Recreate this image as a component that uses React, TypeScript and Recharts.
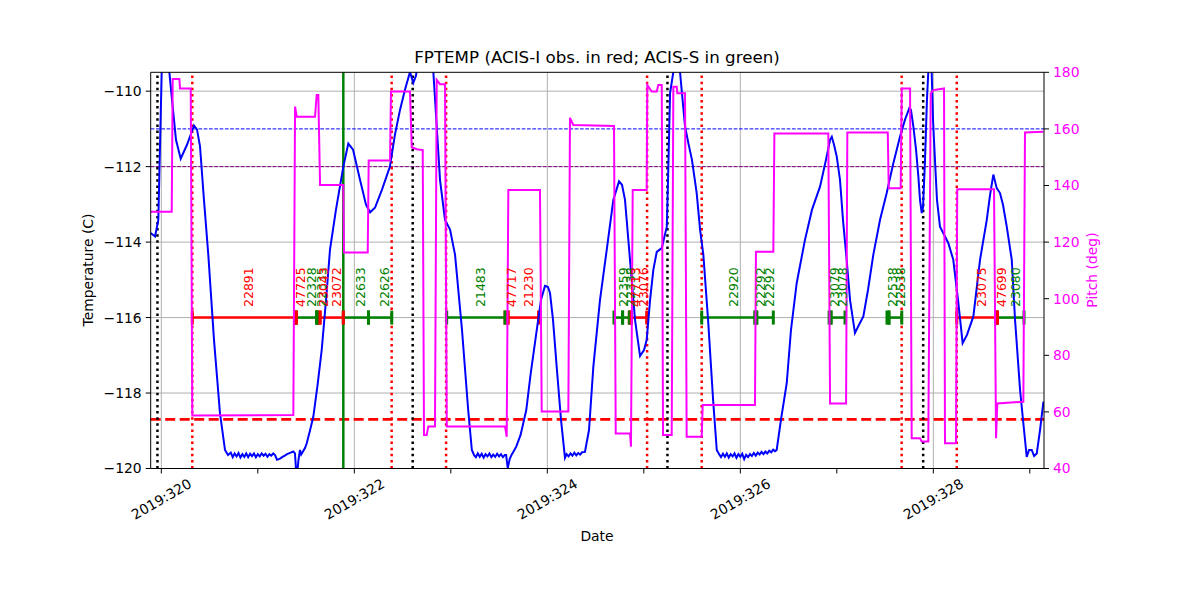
import React from 'react';
import { ComposedChart, Line, XAxis, YAxis, CartesianGrid, ReferenceLine, Scatter } from 'recharts';

// ---------- data ----------
const TEMP_DAY = [
  319.890, 319.935, 319.969, 320.004, 320.023, 320.045, 320.083, 320.111, 320.152, 320.201,
  320.266, 320.339, 320.370, 320.401, 320.442, 320.487, 320.546, 320.608, 320.660, 320.691,
  320.72, 320.74, 320.76, 320.78, 320.80, 320.82, 320.84, 320.86, 320.88, 320.90,
  320.92, 320.94, 320.96, 320.98, 321.00, 321.02, 321.04, 321.06, 321.08, 321.10,
  321.12, 321.14, 321.16, 321.18, 321.199, 321.230, 321.251, 321.280, 321.303, 321.340,
  321.368, 321.385, 321.403, 321.420, 321.437, 321.450, 321.468, 321.490, 321.507, 321.540,
  321.575, 321.619, 321.662, 321.707, 321.748, 321.810, 321.886, 321.938, 321.987, 322.059,
  322.121, 322.163, 322.214, 322.287, 322.369, 322.421, 322.474, 322.525, 322.577, 322.611,
  322.639, 322.680, 322.742, 322.795, 322.819, 322.854, 322.888, 322.940, 322.992, 323.044,
  323.116, 323.180, 323.218,
  323.24, 323.26, 323.28, 323.30, 323.32, 323.34, 323.36, 323.38, 323.40, 323.42,
  323.44, 323.46, 323.48, 323.50, 323.52, 323.54, 323.56,
  323.573, 323.590, 323.610, 323.629, 323.650, 323.678, 323.723, 323.782, 323.826, 323.886,
  323.935, 323.976, 324.007, 324.028, 324.059, 324.097, 324.142, 324.183,
  324.20, 324.22, 324.24, 324.26, 324.28, 324.30, 324.32, 324.34, 324.36,
  324.390, 324.432, 324.477, 324.546, 324.616, 324.684, 324.743, 324.774, 324.805, 324.857,
  324.909, 324.961, 325.002, 325.030, 325.065, 325.099, 325.134, 325.186, 325.238, 325.251,
  325.272, 325.306, 325.334, 325.375, 325.427, 325.461, 325.499, 325.548, 325.583, 325.617,
  325.666, 325.718, 325.756,
  325.78, 325.80, 325.82, 325.84, 325.86, 325.88, 325.90, 325.92, 325.94, 325.96,
  325.98, 326.00, 326.02, 326.04, 326.06, 326.08, 326.10, 326.12, 326.14, 326.16,
  326.18, 326.20, 326.22, 326.24, 326.26, 326.28, 326.30, 326.32, 326.34, 326.36,
  326.377, 326.421, 326.481, 326.525, 326.584, 326.670, 326.743, 326.826, 326.888, 326.930,
  326.948, 326.971, 326.999, 327.033, 327.064, 327.102, 327.137, 327.188, 327.230, 327.275,
  327.323, 327.378, 327.448, 327.517, 327.582, 327.655, 327.706, 327.751, 327.768, 327.793,
  327.821, 327.845, 327.862, 327.880, 327.893, 327.914, 327.934, 327.948, 327.966, 327.983,
  327.997, 328.017, 328.038, 328.069, 328.121, 328.156, 328.207, 328.256, 328.304, 328.349,
  328.415, 328.484, 328.554, 328.588, 328.622, 328.657, 328.691, 328.722, 328.761, 328.813,
  328.847, 328.899, 328.940, 328.968, 328.992, 329.020, 329.044, 329.072, 329.106, 329.141,
];
const TEMP_C = [
  -113.76, -113.85, -113.41, -109.49, -108.60, -108.40, -109.49, -110.23, -111.29, -111.79,
  -111.42, -110.91, -111.02, -111.46, -112.88, -114.34, -116.59, -118.54, -119.51, -119.64,
  -119.58, -119.70, -119.60, -119.68, -119.59, -119.71, -119.62, -119.69, -119.60, -119.70,
  -119.61, -119.67, -119.60, -119.70, -119.62, -119.68, -119.60, -119.66, -119.61, -119.69,
  -119.62, -119.66, -119.60, -119.65, -119.77, -119.74, -119.70, -119.66, -119.62, -119.58,
  -119.55, -119.60, -120.30, -119.80, -119.51, -119.63, -119.55, -119.45, -119.33, -119.00,
  -118.63, -117.79, -116.86, -115.53, -114.20, -113.14, -112.00, -111.39, -111.55, -112.35,
  -113.01, -113.21, -113.09, -112.61, -112.00, -111.15, -110.49, -109.96, -109.49, -109.78,
  -109.59, -108.90, -108.10, -108.90, -109.49, -110.93, -112.35, -113.41, -113.67, -114.34,
  -116.33, -118.45, -119.51,
  -119.64, -119.70, -119.60, -119.69, -119.61, -119.71, -119.62, -119.68, -119.60, -119.70,
  -119.63, -119.69, -119.61, -119.68, -119.62, -119.70, -119.64,
  -119.64, -119.99, -119.75, -119.64, -119.55, -119.42, -119.11, -118.45, -117.52, -116.41,
  -115.53, -115.16, -115.19, -115.35, -116.06, -117.30, -118.71, -119.72,
  -119.62, -119.68, -119.60, -119.66, -119.58, -119.65, -119.59, -119.63, -119.57,
  -119.56, -118.98, -117.30, -115.53, -114.20, -112.88, -112.39, -112.48, -112.88, -114.47,
  -116.06, -117.02, -116.86, -116.59, -115.53, -114.73, -114.26, -114.16, -113.59, -112.35,
  -110.05, -109.49, -108.63, -109.49, -110.93, -111.37, -111.82, -112.70, -113.67, -114.34,
  -116.06, -118.18, -119.51,
  -119.62, -119.70, -119.61, -119.69, -119.60, -119.71, -119.62, -119.68, -119.60, -119.72,
  -119.62, -119.69, -119.61, -119.75, -119.64, -119.70, -119.62, -119.67, -119.59, -119.66,
  -119.58, -119.63, -119.56, -119.62, -119.55, -119.60, -119.53, -119.57, -119.50, -119.54,
  -119.51, -118.71, -117.74, -116.33, -115.09, -113.94, -113.14, -112.53, -111.82, -111.29,
  -111.21, -111.42, -111.73, -112.35, -113.41, -114.47, -115.53, -116.41, -116.19, -115.97,
  -115.27, -114.34, -113.41, -112.70, -111.95, -111.20, -110.76, -110.45, -110.49, -110.93,
  -111.55, -112.26, -112.88, -113.23, -113.09, -111.82, -110.23, -109.49, -108.63, -109.49,
  -110.76, -111.82, -112.88, -113.59, -113.85, -114.03, -114.47, -115.53, -116.68, -116.46,
  -115.97, -114.47, -113.41, -112.75, -112.21, -112.57, -112.70, -113.01, -113.59, -114.47,
  -116.06, -117.92, -118.98, -119.69, -119.51, -119.51, -119.67, -119.60, -118.98, -118.23,
];

const PITCH_DAY = [
  319.890, 320.108, 320.118, 320.187, 320.194, 320.305, 320.321, 321.368, 321.386, 321.403,
  321.593, 321.610, 321.627, 321.645, 321.886, 321.893, 322.139, 322.149, 322.370, 322.380,
  322.577, 322.595, 322.647, 322.709, 322.722, 322.750, 322.767, 322.836, 322.854, 322.888,
  322.940, 322.958, 323.562, 323.579, 323.596, 323.924, 323.942, 324.218, 324.235, 324.269,
  324.691, 324.709, 324.857, 324.867, 324.885, 325.030, 325.036, 325.082, 325.134, 325.150,
  325.186, 325.199, 325.289, 325.306, 325.341, 325.347, 325.427, 325.444, 325.600, 325.610,
  326.152, 326.162, 326.342, 326.353, 326.912, 326.930, 327.096, 327.109, 327.528, 327.538,
  327.662, 327.673, 327.759, 327.776, 327.862, 327.880, 327.948, 327.973, 328.000, 328.111,
  328.121, 328.235, 328.248, 328.629, 328.650, 328.663, 328.933, 328.950, 329.140,
];
const PITCH_DEG = [
  130.7, 130.7, 177.6, 177.6, 174.3, 174.3, 58.7, 58.9, 167.9, 164.3,
  164.3, 172.0, 172.0, 140.2, 140.2, 116.3, 116.3, 148.8, 148.8, 173.2,
  173.2, 153.5, 152.8, 152.5, 51.8, 51.8, 54.8, 54.8, 177.3, 175.8,
  175.8, 54.8, 54.8, 51.2, 138.4, 138.4, 60.1, 60.1, 163.9, 161.4,
  161.0, 52.4, 52.4, 47.7, 138.4, 138.4, 175.5, 173.2, 173.2, 175.5,
  175.5, 51.8, 51.8, 174.9, 174.9, 172.6, 172.6, 51.2, 51.2, 62.4,
  62.4, 116.6, 116.6, 158.4, 158.4, 63.0, 63.0, 158.7, 158.7, 139.0,
  139.0, 174.3, 174.3, 50.7, 50.7, 49.5, 49.5, 172.6, 173.7, 174.3,
  48.9, 48.9, 138.7, 138.7, 50.7, 63.0, 63.6, 158.7, 159.0,
];

const OBS_START = [
  320.321, 321.385, 321.400, 321.608, 321.618, 321.645, 321.886, 322.147, 322.957, 323.562,
  323.593, 324.691, 324.780, 324.850, 324.870, 325.600, 326.152, 326.170, 326.920, 326.940,
  327.520, 327.540, 328.243, 328.650, 328.665,
];
const OBS_STOP = [
  321.385, 321.400, 321.608, 321.618, 321.645, 321.886, 322.147, 322.388, 323.562, 323.593,
  323.909, 324.780, 324.850, 324.870, 325.030, 326.152, 326.170, 326.342, 326.940, 327.085,
  327.540, 327.673, 328.650, 328.665, 328.940,
];
const OBS_ID = [
  '22891', '47725', '22328', '22335', '23043', '23072', '22633', '22626', '21483', '47717',
  '21230', '22359', '22338', '47713', '23076', '22920', '22292', '22292', '23079', '23078',
  '22538', '22538', '23075', '47699', '23080',
];
const OBS_INSTR = [
  'I', 'I', 'S', 'S', 'I', 'I', 'S', 'S', 'S', 'I',
  'I', 'S', 'S', 'I', 'I', 'S', 'S', 'S', 'S', 'S',
  'S', 'S', 'I', 'I', 'S',
];

const RADZONE_BOUNDS = [320.321, 322.387, 322.951, 325.034, 325.600, 327.672, 328.243];
const PERIGEE_DAYS = [319.960, 322.605, 325.245, 327.895];
const NOW_DAY = 321.886;
const LIMIT_BLUE = -111;
const LIMIT_PURPLE = -112;
const LIMIT_RED = -118.7;
const OBS_LEVEL = -116;
const LABEL_LEVEL = -115.72;
const CAP_HALF = 0.186;

const X_TICKS = [320, 321, 322, 323, 324, 325, 326, 327, 328, 329];
const X_GRID = [320, 322, 324, 326, 328];
const Y_LEFT_TICKS = [-120, -118, -116, -114, -112, -110];
const Y_RIGHT_TICKS = [40, 60, 80, 100, 120, 140, 160, 180];
const X_DOMAIN = [319.89, 329.147];
const Y_LEFT_DOMAIN = [-120, -109.5];
const Y_RIGHT_DOMAIN = [40, 180];

// ---------- derived tables ----------
const tempData = TEMP_DAY.map((x, i) => ({ x, y: TEMP_C[i] }));
const pitchData = PITCH_DAY.map((x, i) => ({ x, y: PITCH_DEG[i] }));
const colorOf = (instr: string) => (instr === 'I' ? '#ff0000' : '#008000');
const obs = OBS_START.map((s, i) => ({
  start: s,
  stop: OBS_STOP[i],
  id: OBS_ID[i],
  color: colorOf(OBS_INSTR[i]),
}));
const labelData = obs.map((o) => ({ x: (o.start + o.stop) / 2, y: LABEL_LEVEL, id: o.id, color: o.color }));

const FONT = 'DejaVu Sans';

const DayTick = (props: any) => {
  const { x, y, payload } = props;
  const v = payload.value;
  if (Math.round(v) % 2 !== 0) return <g />;
  const cy = y + 21.5;
  return (
    <text
      x={x}
      y={cy}
      transform={`rotate(-30, ${x}, ${cy})`}
      textAnchor="middle"
      dominantBaseline="central"
      fontSize={13.9}
      fontFamily={FONT}
      fill="#000"
    >
      {`2019:${v}`}
    </text>
  );
};

const ObsLabel = (props: any) => {
  const { cx, cy, payload } = props;
  const x0 = cx + 9.3;
  return (
    <text
      x={x0}
      y={cy}
      transform={`rotate(-90, ${x0}, ${cy})`}
      fill={payload.color}
      fontSize={12.5}
      fontFamily={FONT}
    >
      {payload.id}
    </text>
  );
};

export default function App() {
  return (
    <div style={{ position: 'absolute', left: 0, top: 0, width: 1200, height: 600, background: '#fff' }}>
      <ComposedChart
        width={1200}
        height={600}
        margin={{ top: 72.3, right: 96, bottom: 81.5, left: 90.7 }}
      >
        <CartesianGrid
          yAxisId="left"
          stroke="#b0b0b0"
          strokeWidth={1}
          horizontalValues={Y_LEFT_TICKS}
          verticalValues={X_GRID}
        />
        <XAxis
          dataKey="x"
          type="number"
          domain={X_DOMAIN}
          allowDataOverflow
          ticks={X_TICKS}
          interval={0}
          tick={<DayTick />}
          tickSize={5}
          tickMargin={4}
          height={50}
          stroke="#000"
        />
        <YAxis
          yAxisId="left"
          dataKey="y"
          type="number"
          domain={Y_LEFT_DOMAIN}
          allowDataOverflow
          ticks={Y_LEFT_TICKS}
          interval={0}
          tickFormatter={(v: number) => String(v).replace('-', '\u2212')}
          tick={{ fontSize: 13.9, fill: '#000', fontFamily: FONT }}
          tickSize={5}
          tickMargin={4}
          width={60}
          stroke="#000"
        />
        <YAxis
          yAxisId="right"
          orientation="right"
          dataKey="y"
          type="number"
          domain={Y_RIGHT_DOMAIN}
          allowDataOverflow
          ticks={Y_RIGHT_TICKS}
          interval={0}
          tick={{ fontSize: 13.9, fill: '#ff00ff', fontFamily: FONT }}
          tickSize={5}
          tickMargin={4}
          width={60}
          stroke="#000"
        />

        <ReferenceLine yAxisId="left" y={LIMIT_BLUE} stroke="#0000ff" strokeWidth={1} strokeDasharray="3.7 1.6" />
        <ReferenceLine yAxisId="left" y={LIMIT_PURPLE} stroke="#800080" strokeWidth={1} strokeDasharray="3.7 1.6" />
        <ReferenceLine yAxisId="left" y={LIMIT_RED} stroke="#ff0000" strokeWidth={2.7} strokeDasharray="10 4.5" />
        {RADZONE_BOUNDS.map((d) => (
          <ReferenceLine key={`rz${d}`} yAxisId="left" x={d} stroke="#ff0000" strokeWidth={2.5} strokeDasharray="2.5 3.6" />
        ))}
        {PERIGEE_DAYS.map((d) => (
          <ReferenceLine key={`pg${d}`} yAxisId="left" x={d} stroke="#000000" strokeWidth={2.5} strokeDasharray="2.5 3.6" />
        ))}
        <ReferenceLine yAxisId="left" x={NOW_DAY} stroke="#008000" strokeWidth={2.5} />

        {obs.map((o, i) => (
          <ReferenceLine
            key={`seg${i}`}
            yAxisId="left"
            segment={[{ x: o.start, y: OBS_LEVEL }, { x: o.stop, y: OBS_LEVEL }]}
            stroke={o.color}
            strokeWidth={2.6}
          />
        ))}
        {obs.map((o, i) => (
          <ReferenceLine
            key={`capa${i}`}
            yAxisId="left"
            segment={[{ x: o.start, y: OBS_LEVEL - CAP_HALF }, { x: o.start, y: OBS_LEVEL + CAP_HALF }]}
            stroke={o.color}
            strokeWidth={3}
          />
        ))}
        {obs.map((o, i) => (
          <ReferenceLine
            key={`capb${i}`}
            yAxisId="left"
            segment={[{ x: o.stop, y: OBS_LEVEL - CAP_HALF }, { x: o.stop, y: OBS_LEVEL + CAP_HALF }]}
            stroke={o.color}
            strokeWidth={3}
          />
        ))}

        <Line
          yAxisId="left"
          data={tempData}
          dataKey="y"
          type="linear"
          stroke="#0000ff"
          strokeWidth={2}
          dot={false}
          activeDot={false}
          isAnimationActive={false}
        />
        <Line
          yAxisId="right"
          data={pitchData}
          dataKey="y"
          type="linear"
          stroke="#ff00ff"
          strokeWidth={2}
          dot={false}
          activeDot={false}
          isAnimationActive={false}
        />
        <Scatter
          yAxisId="left"
          data={labelData}
          dataKey="y"
          shape={<ObsLabel />}
          isAnimationActive={false}
        />
        <ReferenceLine yAxisId="left" y={Y_LEFT_DOMAIN[1]} stroke="#000" strokeWidth={1} />
      </ComposedChart>
      <svg
        width={1200}
        height={600}
        style={{ position: 'absolute', left: 0, top: 0, pointerEvents: 'none' }}
      >
        <text x={597} y={63} textAnchor="middle" fontSize={16.7} fontFamily={FONT} fill="#000">
          FPTEMP (ACIS-I obs. in red; ACIS-S in green)
        </text>
        <text x={597} y={541} textAnchor="middle" fontSize={13.9} fontFamily={FONT} fill="#000">
          Date
        </text>
        <text x={93} y={270} transform="rotate(-90, 93, 270)" textAnchor="middle" fontSize={13.9} fontFamily={FONT} fill="#000">
          Temperature (C)
        </text>
        <text x={1097} y={270} transform="rotate(-90, 1097, 270)" textAnchor="middle" fontSize={13.9} fontFamily={FONT} fill="#ff00ff">
          Pitch (deg)
        </text>
      </svg>
    </div>
  );
}
